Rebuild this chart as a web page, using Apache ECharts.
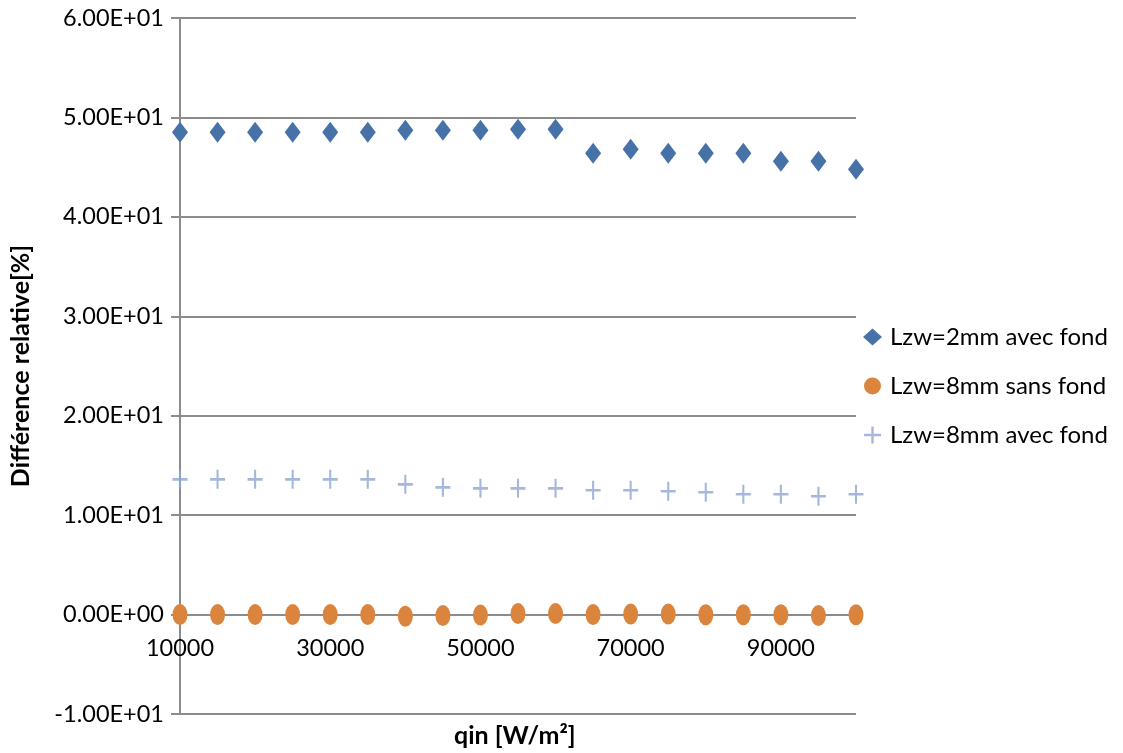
<!DOCTYPE html>
<html>
<head>
<meta charset="utf-8">
<script src="https://cdn.jsdelivr.net/npm/echarts@6/dist/echarts.min.js"></script>
<style>
html,body{margin:0;padding:0;background:#fff;}
#c{width:1123px;height:753px;}
</style>
</head>
<body>
<div id="c"></div>
<script>
const qin = [10000,15000,20000,25000,30000,35000,40000,45000,50000,55000,60000,65000,70000,75000,80000,85000,90000,95000,100000];
const lzw2Avec = [48.5,48.5,48.5,48.5,48.5,48.5,48.7,48.7,48.7,48.8,48.8,46.4,46.8,46.4,46.4,46.4,45.6,45.6,44.8];
const lzw8Sans = [0,0,0,0,0,0,-0.17,-0.1,-0.05,0.1,0.1,0,0.05,0.05,-0.02,-0.02,-0.02,-0.1,-0.02];
const lzw8Avec = [13.6,13.6,13.6,13.6,13.6,13.6,13.1,12.8,12.7,12.7,12.7,12.5,12.5,12.4,12.3,12.1,12.1,11.9,12.1];
const seriesNames = ['Lzw=2mm avec fond','Lzw=8mm sans fond','Lzw=8mm avec fond'];
const xTitle = 'qin [W/m²]';
const yTitle = 'Différence relative[%]';

const FONT = 'Lato';
const plusPath = 'path://M4.3,0 L5.7,0 L5.7,4.3 L10,4.3 L10,5.7 L5.7,5.7 L5.7,10 L4.3,10 L4.3,5.7 L0,5.7 L0,4.3 L4.3,4.3 Z';
const colors = ['#4672A8','#DB843D','#8EA6D2'];

const GRID_TOP = 18, GRID_BOTTOM = 39, H = 753;
const Y_MIN = -10, Y_MAX = 60;
// shift the x axis up so it crosses the y axis at value 0
const plotH = H - GRID_TOP - GRID_BOTTOM;
const xAxisOffset = -plotH * (0 - Y_MIN) / (Y_MAX - Y_MIN);

function pairs(ys){ return qin.map((x,i)=>[x,ys[i]]); }
function fmtE(v){
  const s = v.toExponential(2).toUpperCase();
  const m = s.match(/^(-?[\d.]+)E([+-])(\d+)$/);
  return m[1] + 'E' + m[2] + (m[3].length<2?'0'+m[3]:m[3]);
}

const chart = echarts.init(document.getElementById('c'), null, {renderer:'canvas'});
chart.setOption({
  animation:false,
  backgroundColor:'#fff',
  textStyle:{fontFamily:FONT},
  grid:{left:179, right:267, top:GRID_TOP, bottom:GRID_BOTTOM, containLabel:false},
  xAxis:{
    type:'value', min:10000, max:100000, interval:20000,
    offset:xAxisOffset,
    axisLine:{onZero:false, lineStyle:{color:'#8C8C8C', width:2}},
    axisTick:{show:false},
    splitLine:{show:false},
    axisLabel:{color:'#000', fontSize:23.5, fontFamily:FONT, margin:22, showMaxLabel:false,
      formatter:function(v){ return v===100000 ? '' : String(v); }}
  },
  yAxis:{
    type:'value', min:Y_MIN, max:Y_MAX, interval:10,
    name:yTitle, nameLocation:'middle', nameRotate:90, nameGap:147,
    nameTextStyle:{color:'#000', fontSize:25, fontWeight:'bold', fontFamily:FONT},
    axisLine:{show:true, onZero:false, lineStyle:{color:'#8C8C8C', width:2}},
    axisTick:{show:true, length:9, lineStyle:{color:'#8C8C8C', width:2}},
    splitLine:{show:true, lineStyle:{color:'#8C8C8C', width:2}},
    axisLabel:{color:'#000', fontSize:23.5, fontFamily:FONT, margin:16, formatter:fmtE}
  },
  legend:{
    orient:'vertical', left:858, top:320, itemGap:25, itemWidth:19, itemHeight:17,
    textStyle:{color:'#000', fontSize:24, fontFamily:FONT, padding:[0,0,0,3]},
    data:[
      {name:seriesNames[0], icon:'diamond'},
      {name:seriesNames[1], icon:'circle'},
      {name:seriesNames[2], icon:plusPath}
    ]
  },
  graphic:[{
    type:'text', left:454, top:723,
    style:{text:xTitle, fill:'#000', font:'bold 25px '+FONT}
  }],
  series:[
    {name:seriesNames[2], type:'scatter', data:pairs(lzw8Avec), symbol:plusPath, symbolSize:[15,19],
      itemStyle:{color:colors[2]}, z:3},
    {name:seriesNames[1], type:'scatter', data:pairs(lzw8Sans), symbol:'circle', symbolSize:[15,21],
      itemStyle:{color:colors[1], opacity:1}, z:4},
    {name:seriesNames[0], type:'scatter', data:pairs(lzw2Avec), symbol:'diamond', symbolSize:[16,21],
      itemStyle:{color:colors[0], opacity:1}, z:5}
  ]
});
</script>
</body>
</html>
